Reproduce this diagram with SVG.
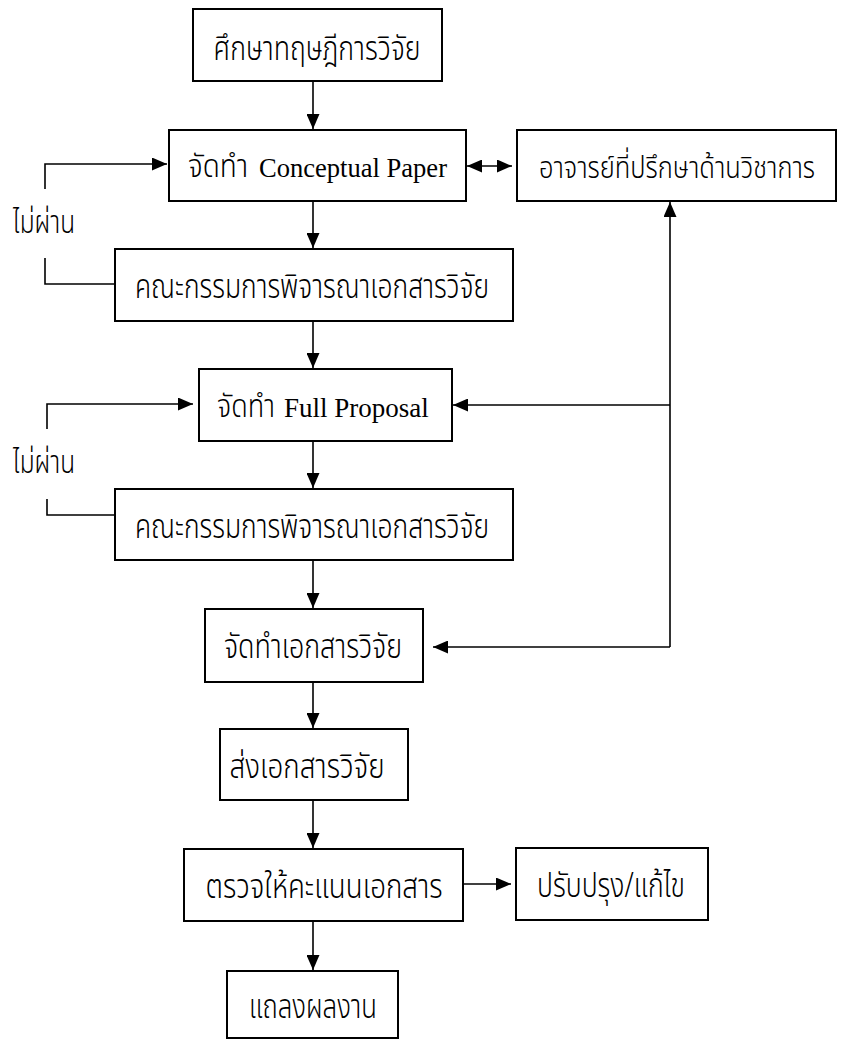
<svg xmlns="http://www.w3.org/2000/svg" width="850" height="1040" viewBox="0 0 850 1040">
<style>
.box{fill:#fff;stroke:#000;stroke-width:2}
.ln{fill:none;stroke:#000;stroke-width:1.6}
.th{font-family:"Noto Sans Thai","Noto Serif Thai","Liberation Sans",sans-serif;font-size:34px;font-weight:300;fill:#000;text-anchor:middle}
.thl{font-family:"Noto Sans Thai","Noto Serif Thai","Liberation Sans",sans-serif;font-size:32px;font-weight:300;fill:#000}
.en{font-family:"Liberation Serif",serif;font-size:27px;fill:#000}
</style>
<defs>
<marker id="ah" markerUnits="userSpaceOnUse" markerWidth="15" markerHeight="13" refX="15" refY="6.5" orient="auto-start-reverse" viewBox="0 0 15 13">
<path d="M0,0 L15,6.5 L0,13 z" fill="#000"/>
</marker>
</defs>
<rect width="850" height="1040" fill="#fff"/>
<g id="connectors">
<line class="ln" x1="313" y1="81" x2="313" y2="129" marker-end="url(#ah)"/>
<line class="ln" x1="313" y1="201" x2="313" y2="248" marker-end="url(#ah)"/>
<line class="ln" x1="313" y1="321" x2="313" y2="368" marker-end="url(#ah)"/>
<line class="ln" x1="313" y1="441" x2="313" y2="488" marker-end="url(#ah)"/>
<line class="ln" x1="313" y1="560" x2="313" y2="608" marker-end="url(#ah)"/>
<line class="ln" x1="313" y1="682" x2="313" y2="728" marker-end="url(#ah)"/>
<line class="ln" x1="313" y1="800" x2="313" y2="848" marker-end="url(#ah)"/>
<line class="ln" x1="313" y1="921" x2="313" y2="970" marker-end="url(#ah)"/>
<line class="ln" x1="463" y1="884" x2="511" y2="884" marker-end="url(#ah)"/>
<line class="ln" x1="467" y1="166" x2="512" y2="166" marker-start="url(#ah)" marker-end="url(#ah)"/>
<line class="ln" x1="670" y1="647" x2="670" y2="202" marker-end="url(#ah)"/>
<line class="ln" x1="670" y1="405" x2="453" y2="405" marker-end="url(#ah)"/>
<line class="ln" x1="670" y1="647" x2="433" y2="647" marker-end="url(#ah)"/>
<polyline class="ln" points="115,284 45,284 45,258"/>
<polyline class="ln" points="45,189 45,164 167,164" marker-end="url(#ah)"/>
<polyline class="ln" points="115,515 47,515 47,499"/>
<polyline class="ln" points="47,429 47,404 193,404" marker-end="url(#ah)"/>
<text class="thl" x="13" y="233" textLength="62" lengthAdjust="spacingAndGlyphs">ไม่ผ่าน</text>
<text class="thl" x="13" y="473" textLength="62" lengthAdjust="spacingAndGlyphs">ไม่ผ่าน</text>
</g>
<g id="n1"><rect class="box" x="193" y="9" width="249" height="72"/><text class="th" x="317" y="60" textLength="207" lengthAdjust="spacingAndGlyphs">ศึกษาทฤษฎีการวิจัย</text></g>
<g id="n2"><rect class="box" x="169" y="130" width="297" height="71"/><text class="thl" x="188" y="177" textLength="60" lengthAdjust="spacingAndGlyphs">จัดทำ</text><text class="en" x="259" y="177" textLength="188" lengthAdjust="spacingAndGlyphs">Conceptual Paper</text></g>
<g id="n3"><rect class="box" x="517" y="130" width="319" height="71"/><text class="th" x="677" y="178" style="font-size:31px" textLength="276" lengthAdjust="spacingAndGlyphs">อาจารย์ที่ปรึกษาด้านวิชาการ</text></g>
<g id="n4"><rect class="box" x="115" y="249" width="398" height="72"/><text class="th" x="312" y="298" textLength="354" lengthAdjust="spacingAndGlyphs">คณะกรรมการพิจารณาเอกสารวิจัย</text></g>
<g id="n5"><rect class="box" x="199" y="369" width="253" height="72"/><text class="thl" x="217" y="417" textLength="58" lengthAdjust="spacingAndGlyphs">จัดทำ</text><text class="en" x="284" y="417">Full Proposal</text></g>
<g id="n6"><rect class="box" x="115" y="489" width="398" height="71"/><text class="th" x="312" y="538" textLength="354" lengthAdjust="spacingAndGlyphs">คณะกรรมการพิจารณาเอกสารวิจัย</text></g>
<g id="n7"><rect class="box" x="205" y="609" width="218" height="73"/><text class="th" x="313" y="658" textLength="178" lengthAdjust="spacingAndGlyphs">จัดทำเอกสารวิจัย</text></g>
<g id="n8"><rect class="box" x="220" y="729" width="188" height="71"/><text class="th" x="307" y="778" textLength="155" lengthAdjust="spacingAndGlyphs">ส่งเอกสารวิจัย</text></g>
<g id="n9"><rect class="box" x="184" y="849" width="279" height="72"/><text class="th" x="324" y="898" textLength="237" lengthAdjust="spacingAndGlyphs">ตรวจให้คะแนนเอกสาร</text></g>
<g id="n10"><rect class="box" x="516" y="848" width="192" height="72"/><text class="th" x="611" y="897" textLength="148" lengthAdjust="spacingAndGlyphs">ปรับปรุง/แก้ไข</text></g>
<g id="n11"><rect class="box" x="227" y="971" width="171" height="67"/><text class="th" x="313" y="1018" textLength="128" lengthAdjust="spacingAndGlyphs">แถลงผลงาน</text></g>
</svg>
